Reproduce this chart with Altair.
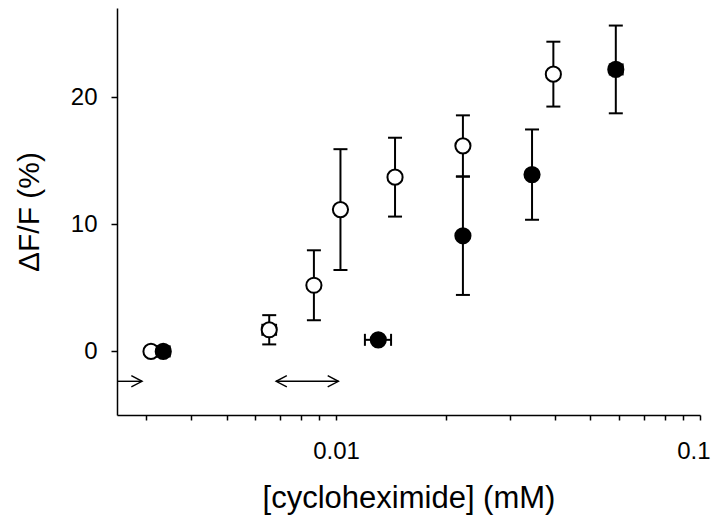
import altair as alt
import pandas as pd

# Open circles
open_x = [0.00310, 0.00655, 0.00869, 0.01028, 0.01452, 0.02231, 0.03954]
open_y = [0.0, 1.7, 5.2, 11.15, 13.7, 16.16, 21.8]
open_err = [0.0, 1.15, 2.75, 4.75, 3.1, 2.4, 2.55]

# Filled circles
filled_x = [0.00335, 0.01306, 0.02231, 0.03455, 0.0587]
filled_y = [0.0, 0.91, 9.09, 13.9, 22.17]
filled_err = [0.0, 0.0, 4.65, 3.55, 3.45]

# Horizontal error bars
hx_lo = [0.00627, 0.00322, 0.0120, 0.0565]
hx_hi = [0.00684, 0.00349, 0.01416, 0.0613]
hy = [1.7, 0.0, 0.91, 22.17]

# Arrows
arrow_start = [0.0025, 0.00684]
arrow_end = [0.00293, 0.01015]
arrow_y = [-2.35, -2.35]
head_x = [0.00293, 0.00684, 0.01015]
head_dir = ["right", "left", "right"]

x_ticks = [0.003, 0.004, 0.005, 0.006, 0.007, 0.008, 0.009, 0.01,
           0.02, 0.03, 0.04, 0.05, 0.06, 0.07, 0.08, 0.09, 0.1]
y_ticks = [0, 10, 20]

FONT = "Liberation Sans"

pts = pd.DataFrame(
    {"x": open_x + filled_x,
     "y": open_y + filled_y,
     "err": open_err + filled_err,
     "kind": ["open"] * len(open_x) + ["filled"] * len(filled_x)}
)
pts["lo"] = pts["y"] - pts["err"]
pts["hi"] = pts["y"] + pts["err"]
vbars = pts[pts["err"] > 0]

hbars = pd.DataFrame({"lo": hx_lo, "hi": hx_hi, "y": hy})
arrows = pd.DataFrame({"s": arrow_start, "e": arrow_end, "y": arrow_y})
heads = pd.DataFrame({"x": head_x, "dir": head_dir, "y": [arrow_y[0]] * len(head_x)})

xscale = alt.Scale(type="log", domain=[0.0025, 0.1], nice=False)
yscale = alt.Scale(domain=[-5, 27], nice=False, zero=False)

xaxis = alt.Axis(
    values=x_ticks,
    labelExpr="datum.value == 0.01 ? '0.01' : (datum.value == 0.1 ? '0.1' : '')",
    title="[cycloheximide] (mM)",
    tickSize=5, labelPadding=19, labelFontSize=24, labelFont=FONT,
    labelColor="black", titleFontSize=31, titleFont=FONT, titleFontWeight="normal",
    titleColor="black", titleBaseline="alphabetic", titleY=92,
    domainColor="black", tickColor="black", domainWidth=1.5, tickWidth=1.5,
    labelFlush=True, labelFlushOffset=10, labelOverlap=False, grid=False,
)
yaxis = alt.Axis(
    values=y_ticks, title="ΔF/F (%)",
    tickSize=6, labelPadding=14, labelFontSize=24, labelFont=FONT,
    labelColor="black", titleFontSize=30, titleFont=FONT, titleFontWeight="normal",
    titleColor="black", titleBaseline="middle", titleX=-88,
    domainColor="black", tickColor="black", domainWidth=1.5, tickWidth=1.5,
    grid=False,
)

X = lambda f: alt.X(f, type="quantitative", scale=xscale, axis=xaxis)
Y = lambda f: alt.Y(f, type="quantitative", scale=yscale, axis=yaxis)

vrule = alt.Chart(vbars).mark_rule(color="black", strokeWidth=2).encode(
    x=X("x"), y=Y("lo"), y2="hi")
vcap_lo = alt.Chart(vbars).mark_rule(color="black", strokeWidth=2, xOffset=-7, x2Offset=7).encode(
    x=X("x"), x2="x", y=Y("lo"))
vcap_hi = alt.Chart(vbars).mark_rule(color="black", strokeWidth=2, xOffset=-7, x2Offset=7).encode(
    x=X("x"), x2="x", y=Y("hi"))

hrule = alt.Chart(hbars).mark_rule(color="black", strokeWidth=2).encode(
    x=X("lo"), x2="hi", y=Y("y"))
hcap_lo = alt.Chart(hbars).mark_rule(color="black", strokeWidth=2, yOffset=-6, y2Offset=6).encode(
    x=X("lo"), y=Y("y"), y2="y")
hcap_hi = alt.Chart(hbars).mark_rule(color="black", strokeWidth=2, yOffset=-6, y2Offset=6).encode(
    x=X("hi"), y=Y("y"), y2="y")

circles = alt.Chart(pts).mark_point(shape="circle", size=230, strokeWidth=2, opacity=1).encode(
    x=X("x"), y=Y("y"),
    fill=alt.Fill("kind:N", scale=alt.Scale(domain=["open", "filled"], range=["white", "black"]), legend=None),
    stroke=alt.value("black"),
)

shaft = alt.Chart(arrows).mark_rule(color="black", strokeWidth=1.4).encode(
    x=X("s"), x2="e", y=Y("y"))
arrowheads = alt.Chart(heads).mark_point(filled=False, size=160, strokeWidth=1.4, opacity=1, color="black").encode(
    x=X("x"), y=Y("y"),
    shape=alt.Shape("dir:N", scale=alt.Scale(domain=["right", "left"],
                                             range=["M -1.7 -0.9 L 0 0 L -1.7 0.9", "M 1.7 -0.9 L 0 0 L 1.7 0.9"]),
                    legend=None),
)

chart = alt.layer(vrule, vcap_lo, vcap_hi, hrule, hcap_lo, hcap_hi, shaft, arrowheads, circles).properties(
    width=583, height=407,
    autosize=alt.AutoSizeParams(type="none"),
    padding={"left": 109, "top": 0, "right": 12, "bottom": 100},
    background="white",
).configure_view(stroke=None)

chart.save("out.html", embed_options={"renderer": "svg", "actions": False})
